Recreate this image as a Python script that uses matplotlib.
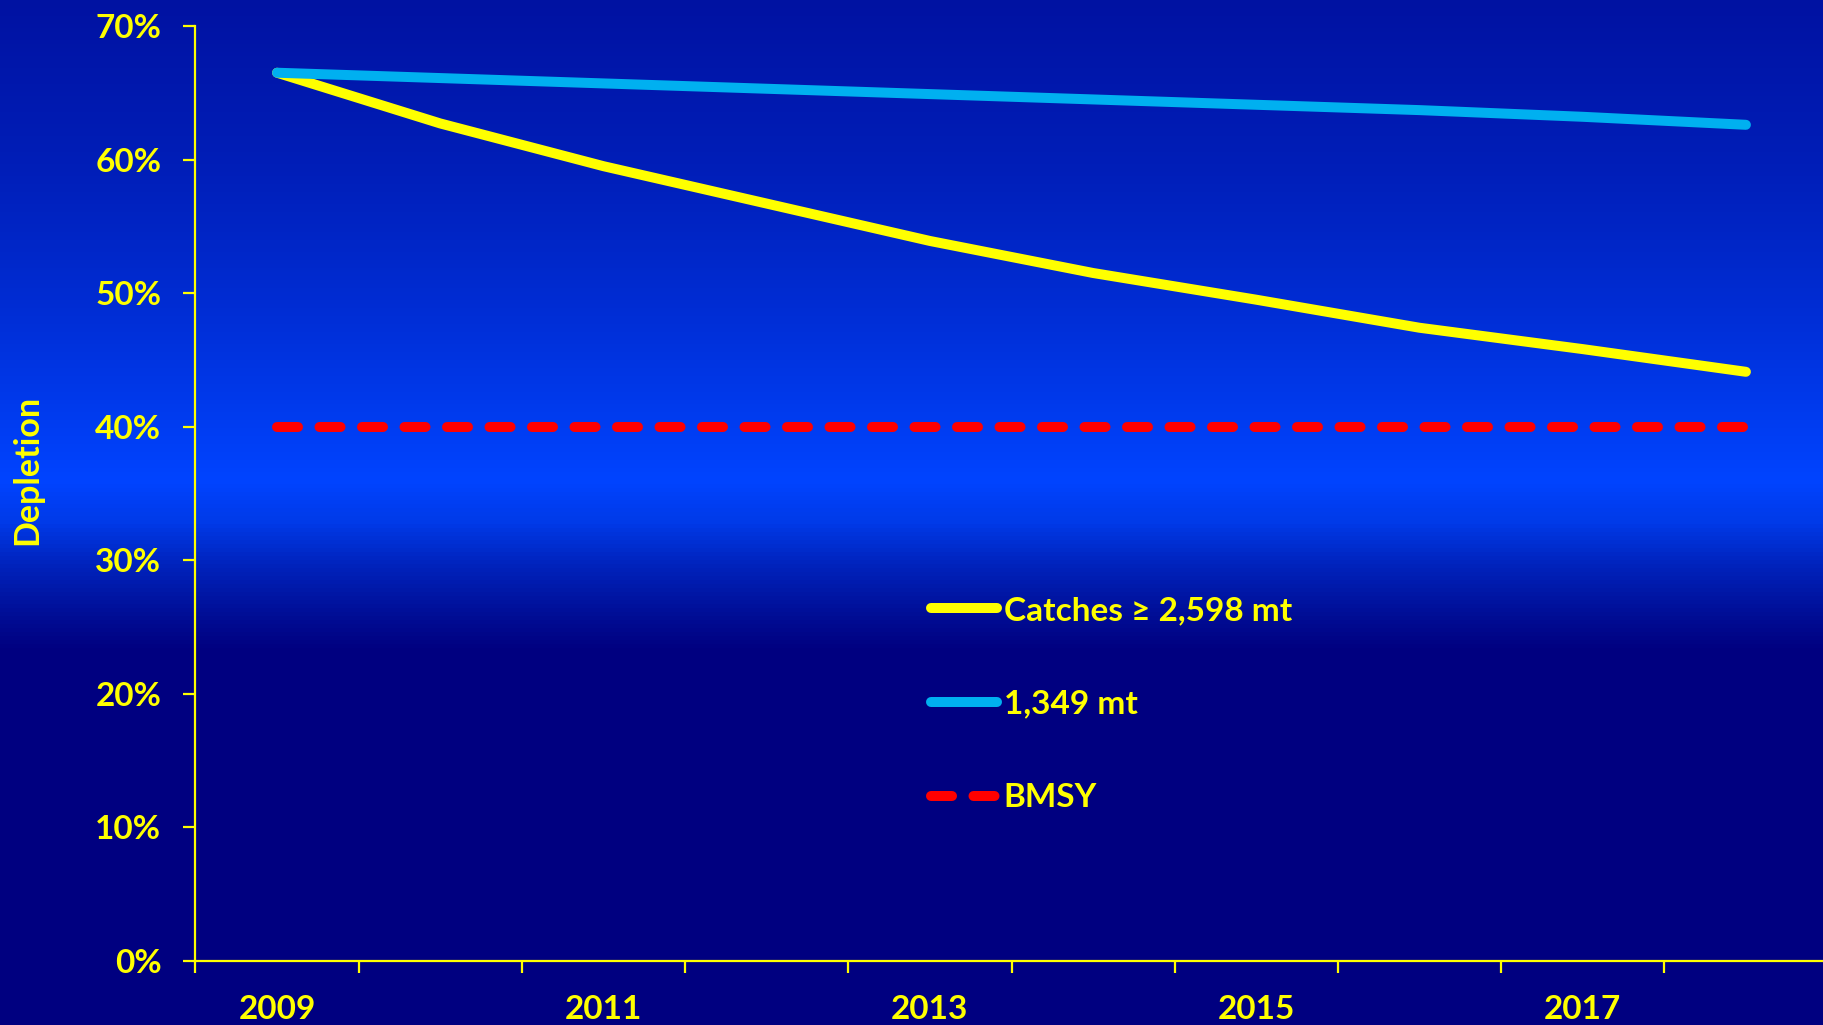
import numpy as np
import matplotlib
matplotlib.use("Agg")
import matplotlib.pyplot as plt
from matplotlib.colors import LinearSegmentedColormap

# ---- data ----
years = [2009, 2010, 2011, 2012, 2013, 2014, 2015, 2016, 2017, 2018]
catches_high = [66.5, 62.7, 59.5, 56.7, 53.9, 51.5, 49.5, 47.4, 45.8, 44.1]
catches_low = [66.5, 66.1, 65.7, 65.3, 64.9, 64.5, 64.1, 63.7, 63.2, 62.6]
bmsy = [40, 40, 40, 40, 40, 40, 40, 40, 40, 40]
labels = ["Catches \u2265 2,598 mt", "1,349 mt", "BMSY"]
ytick_vals = [0, 10, 20, 30, 40, 50, 60, 70]
xtick_labels = ["2009", "", "2011", "", "2013", "", "2015", "", "2017", ""]

YEL = "#FFFF00"
BLUE = "#00B0F0"
RED = "#FF0000"
FONT = ["Lato", "DejaVu Sans"]
plt.rcParams["font.family"] = FONT
plt.rcParams["font.weight"] = "bold"

W, H = 1824, 1025
fig = plt.figure(figsize=(W / 100, H / 100), dpi=100)

# background gradient
bg = fig.add_axes([0, 0, 1, 1], zorder=-10)
stops = [(0.0, "#0012A2"), (0.16, "#001EB8"), (0.30, "#002DD4"),
         (0.44, "#0040F8"), (0.47, "#0044FF"), (0.51, "#003AE8"),
         (0.55, "#0024BE"), (0.60, "#000E96"), (0.635, "#000080"),
         (1.0, "#000080")]
cmap = LinearSegmentedColormap.from_list("bg", stops)
grad = np.linspace(0, 1, 1025).reshape(-1, 1)
bg.imshow(grad, aspect="auto", cmap=cmap, extent=[0, 1, 1, 0])
bg.set_axis_off()

left = 195.5 / W
right = 1827.5 / W
bottom = 1 - 960.6 / H
top = 1 - 26.0 / H
ax = fig.add_axes([left, bottom, right - left, top - bottom])
ax.set_facecolor("none")

x = np.arange(len(years))
lw = 7.2
ax.plot(x, catches_high, color=YEL, lw=lw, solid_capstyle="round",
        solid_joinstyle="round", label=labels[0], clip_on=False)
ax.plot(x, catches_low, color=BLUE, lw=lw, solid_capstyle="round",
        solid_joinstyle="round", label=labels[1], clip_on=False)
ax.plot(x, bmsy, color=RED, lw=lw, dashes=(2.1, 2.15),
        dash_capstyle="round", label=labels[2], clip_on=False)

ax.set_xlim(-0.5, len(years) - 0.5)
ax.set_ylim(0, 70)

for s in ["top", "right"]:
    ax.spines[s].set_visible(False)
for s in ["left", "bottom"]:
    ax.spines[s].set_color(YEL)
    ax.spines[s].set_linewidth(1.6)

ax.set_yticks(ytick_vals)
ax.set_yticklabels([f"{v}%" for v in ytick_vals])
ax.tick_params(axis="y", which="major", direction="out", length=8.6,
               width=1.6, color=YEL, labelcolor=YEL, labelsize=24, pad=16)

ax.set_xticks(np.arange(-0.5, len(years) + 0.5, 1.0))
ax.set_xticklabels([])
ax.set_xticks(x, minor=True)
ax.set_xticklabels(xtick_labels, minor=True)
ax.tick_params(axis="x", which="major", direction="out", length=8.6,
               width=1.6, color=YEL)
ax.tick_params(axis="x", which="minor", length=0, labelcolor=YEL,
               labelsize=24, pad=25)

for t in ax.get_xticklabels(minor=True) + ax.get_yticklabels():
    t.set_fontweight("bold")

fig.text(27 / W, 1 - 470 / H, "Depletion", rotation=90, color=YEL,
         fontsize=24.5, fontweight="bold", ha="center", va="center")

leg = ax.legend(loc="center left", bbox_to_anchor=(931 / W, 1 - 704 / H),
                bbox_transform=fig.transFigure, frameon=False,
                fontsize=24, handlelength=1.98, handletextpad=0.2,
                labelspacing=1.94, borderpad=0, borderaxespad=0)
for t in leg.get_texts():
    t.set_color(YEL)
    t.set_fontweight("bold")

fig.savefig("out.png", dpi=100)
